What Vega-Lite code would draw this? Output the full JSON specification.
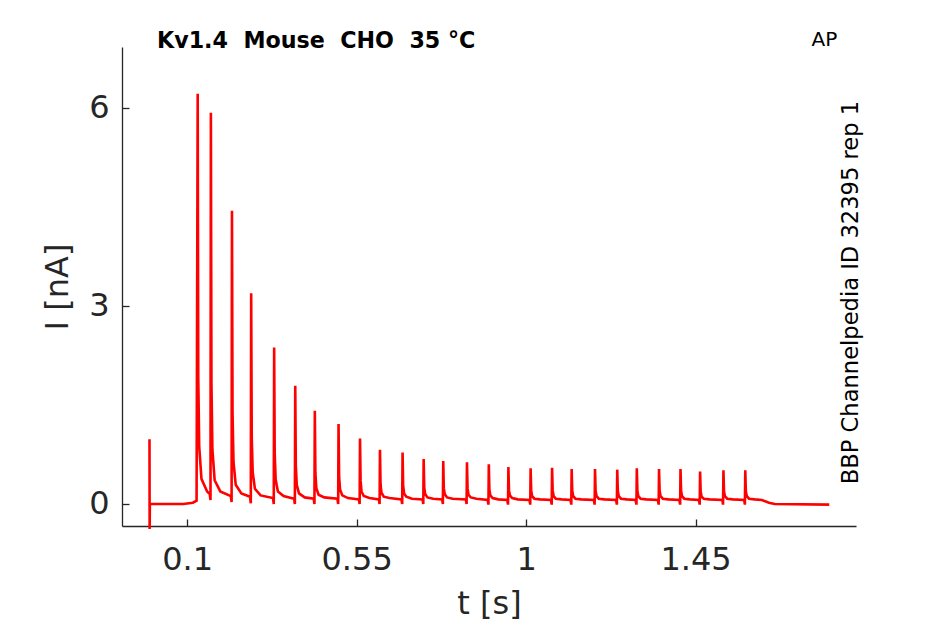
{
  "$schema": "https://vega.github.io/schema/vega-lite/v6.json",
  "autosize": {"type": "none"},
  "width": 734,
  "height": 479,
  "padding": {"left": 122, "top": 47, "right": 89, "bottom": 98},
  "background": "white",
  "title": {
    "text": "Kv1.4\u00a0 Mouse\u00a0 CHO\u00a0 35 °C",
    "anchor": "start",
    "frame": "group",
    "dx": 35,
    "dy": 40,
    "font": "DejaVu Sans",
    "fontSize": 22.2,
    "fontWeight": "bold",
    "color": "black",
    "baseline": "alphabetic",
    "offset": 0
  },
  "data": {
    "values": [
      {"t": 0.0, "i": 0.98}, {"t": 0.0004, "i": -0.38}, {"t": 0.001, "i": 0.0},
      {"t": 0.09, "i": 0.0}, {"t": 0.115, "i": 0.02}, {"t": 0.125, "i": 0.05},
      {"t": 0.128, "i": 6.21}, {"t": 0.1295, "i": 1.91}, {"t": 0.132, "i": 0.87}, {"t": 0.138, "i": 0.38}, {"t": 0.153, "i": 0.19},
      {"t": 0.16, "i": 0.15}, {"t": 0.162, "i": 0.06}, {"t": 0.163, "i": 5.92}, {"t": 0.1645, "i": 1.83}, {"t": 0.167, "i": 0.83}, {"t": 0.173, "i": 0.36}, {"t": 0.188, "i": 0.19},
      {"t": 0.216, "i": 0.12}, {"t": 0.218, "i": 0.03}, {"t": 0.219, "i": 4.44}, {"t": 0.2205, "i": 1.38}, {"t": 0.223, "i": 0.64}, {"t": 0.229, "i": 0.29}, {"t": 0.244, "i": 0.16},
      {"t": 0.267, "i": 0.11}, {"t": 0.269, "i": 0.01}, {"t": 0.27, "i": 3.19}, {"t": 0.2715, "i": 1.01}, {"t": 0.274, "i": 0.48}, {"t": 0.28, "i": 0.23}, {"t": 0.295, "i": 0.13},
      {"t": 0.328, "i": 0.09}, {"t": 0.33, "i": 0.0}, {"t": 0.331, "i": 2.37}, {"t": 0.3325, "i": 0.76}, {"t": 0.335, "i": 0.37}, {"t": 0.341, "i": 0.19}, {"t": 0.356, "i": 0.12},
      {"t": 0.384, "i": 0.08}, {"t": 0.386, "i": 0.0}, {"t": 0.387, "i": 1.79}, {"t": 0.3885, "i": 0.59}, {"t": 0.391, "i": 0.29}, {"t": 0.397, "i": 0.16}, {"t": 0.412, "i": 0.1},
      {"t": 0.436, "i": 0.08}, {"t": 0.438, "i": 0.0}, {"t": 0.439, "i": 1.41}, {"t": 0.4405, "i": 0.47}, {"t": 0.443, "i": 0.24}, {"t": 0.449, "i": 0.14}, {"t": 0.464, "i": 0.1},
      {"t": 0.499, "i": 0.08}, {"t": 0.501, "i": 0.0}, {"t": 0.502, "i": 1.21}, {"t": 0.5035, "i": 0.41}, {"t": 0.506, "i": 0.22}, {"t": 0.512, "i": 0.13}, {"t": 0.527, "i": 0.09},
      {"t": 0.556, "i": 0.07}, {"t": 0.558, "i": 0.0}, {"t": 0.559, "i": 0.99}, {"t": 0.5605, "i": 0.35}, {"t": 0.563, "i": 0.19}, {"t": 0.569, "i": 0.12}, {"t": 0.584, "i": 0.09},
      {"t": 0.609, "i": 0.07}, {"t": 0.611, "i": 0.0}, {"t": 0.612, "i": 0.82}, {"t": 0.6135, "i": 0.3}, {"t": 0.616, "i": 0.17}, {"t": 0.622, "i": 0.11}, {"t": 0.637, "i": 0.09},
      {"t": 0.669, "i": 0.07}, {"t": 0.671, "i": 0.0}, {"t": 0.672, "i": 0.78}, {"t": 0.6735, "i": 0.28}, {"t": 0.676, "i": 0.16}, {"t": 0.682, "i": 0.11}, {"t": 0.697, "i": 0.08},
      {"t": 0.725, "i": 0.07}, {"t": 0.727, "i": 0.0}, {"t": 0.728, "i": 0.68}, {"t": 0.7295, "i": 0.25}, {"t": 0.732, "i": 0.15}, {"t": 0.738, "i": 0.1}, {"t": 0.753, "i": 0.08},
      {"t": 0.777, "i": 0.07}, {"t": 0.779, "i": 0.0}, {"t": 0.78, "i": 0.65}, {"t": 0.7815, "i": 0.24}, {"t": 0.784, "i": 0.15}, {"t": 0.79, "i": 0.1}, {"t": 0.805, "i": 0.08},
      {"t": 0.84, "i": 0.07}, {"t": 0.842, "i": 0.0}, {"t": 0.843, "i": 0.63}, {"t": 0.8445, "i": 0.24}, {"t": 0.847, "i": 0.14}, {"t": 0.853, "i": 0.1}, {"t": 0.868, "i": 0.08},
      {"t": 0.898, "i": 0.06}, {"t": 0.9, "i": -0.01}, {"t": 0.901, "i": 0.6}, {"t": 0.9025, "i": 0.22}, {"t": 0.905, "i": 0.13}, {"t": 0.911, "i": 0.09}, {"t": 0.926, "i": 0.07},
      {"t": 0.95, "i": 0.06}, {"t": 0.952, "i": -0.01}, {"t": 0.953, "i": 0.56}, {"t": 0.9545, "i": 0.21}, {"t": 0.957, "i": 0.13}, {"t": 0.963, "i": 0.09}, {"t": 0.978, "i": 0.07},
      {"t": 1.009, "i": 0.06}, {"t": 1.011, "i": -0.01}, {"t": 1.012, "i": 0.54}, {"t": 1.0135, "i": 0.2}, {"t": 1.016, "i": 0.12}, {"t": 1.022, "i": 0.08}, {"t": 1.037, "i": 0.07},
      {"t": 1.066, "i": 0.06}, {"t": 1.068, "i": -0.01}, {"t": 1.069, "i": 0.55}, {"t": 1.0705, "i": 0.21}, {"t": 1.073, "i": 0.12}, {"t": 1.079, "i": 0.08}, {"t": 1.094, "i": 0.07},
      {"t": 1.118, "i": 0.06}, {"t": 1.12, "i": -0.01}, {"t": 1.121, "i": 0.53}, {"t": 1.1225, "i": 0.2}, {"t": 1.125, "i": 0.12}, {"t": 1.131, "i": 0.08}, {"t": 1.146, "i": 0.07},
      {"t": 1.18, "i": 0.06}, {"t": 1.182, "i": -0.01}, {"t": 1.183, "i": 0.53}, {"t": 1.1845, "i": 0.2}, {"t": 1.187, "i": 0.12}, {"t": 1.193, "i": 0.08}, {"t": 1.208, "i": 0.07},
      {"t": 1.239, "i": 0.06}, {"t": 1.241, "i": -0.01}, {"t": 1.242, "i": 0.52}, {"t": 1.2435, "i": 0.2}, {"t": 1.246, "i": 0.12}, {"t": 1.252, "i": 0.08}, {"t": 1.267, "i": 0.07},
      {"t": 1.291, "i": 0.06}, {"t": 1.293, "i": -0.01}, {"t": 1.294, "i": 0.54}, {"t": 1.2955, "i": 0.2}, {"t": 1.298, "i": 0.12}, {"t": 1.304, "i": 0.08}, {"t": 1.319, "i": 0.07},
      {"t": 1.35, "i": 0.06}, {"t": 1.352, "i": -0.01}, {"t": 1.353, "i": 0.53}, {"t": 1.3545, "i": 0.2}, {"t": 1.357, "i": 0.12}, {"t": 1.363, "i": 0.08}, {"t": 1.378, "i": 0.07},
      {"t": 1.407, "i": 0.06}, {"t": 1.409, "i": -0.01}, {"t": 1.41, "i": 0.53}, {"t": 1.4115, "i": 0.2}, {"t": 1.414, "i": 0.12}, {"t": 1.42, "i": 0.08}, {"t": 1.435, "i": 0.07},
      {"t": 1.459, "i": 0.06}, {"t": 1.461, "i": -0.01}, {"t": 1.462, "i": 0.49}, {"t": 1.4635, "i": 0.19}, {"t": 1.466, "i": 0.11}, {"t": 1.472, "i": 0.08}, {"t": 1.487, "i": 0.07},
      {"t": 1.521, "i": 0.06}, {"t": 1.523, "i": -0.01}, {"t": 1.524, "i": 0.51}, {"t": 1.5255, "i": 0.19}, {"t": 1.528, "i": 0.12}, {"t": 1.534, "i": 0.08}, {"t": 1.549, "i": 0.07},
      {"t": 1.579, "i": 0.06}, {"t": 1.581, "i": -0.01}, {"t": 1.582, "i": 0.51}, {"t": 1.5835, "i": 0.19}, {"t": 1.586, "i": 0.12}, {"t": 1.592, "i": 0.08}, {"t": 1.607, "i": 0.07},
      {"t": 1.626, "i": 0.06}, {"t": 1.645, "i": 0.02}, {"t": 1.66, "i": 0.0}, {"t": 1.805, "i": -0.01}
    ]
  },
  "layer": [
    {
      "mark": {"type": "line", "color": "#ff0000", "strokeWidth": 2.6, "clip": false},
      "encoding": {
        "x": {
          "field": "t",
          "type": "quantitative",
          "title": "t [s]",
          "scale": {"domain": [-0.073, 1.876], "nice": false, "zero": false},
          "axis": {"values": [0.1, 0.55, 1, 1.45], "format": ".3~g", "grid": false}
        },
        "y": {
          "field": "i",
          "type": "quantitative",
          "title": "I [nA]",
          "scale": {"domain": [-0.333, 6.917], "nice": false, "zero": false},
          "axis": {"values": [0, 3, 6], "format": ".3~g", "grid": false}
        }
      }
    },
    {
      "data": {"values": [{"label": "AP"}]},
      "mark": {"type": "text", "font": "DejaVu Sans", "fontSize": 20, "color": "black", "align": "center", "baseline": "alphabetic"},
      "encoding": {
        "x": {"datum": 1.792, "type": "quantitative"},
        "y": {"datum": 6.93, "type": "quantitative"},
        "text": {"field": "label"}
      }
    },
    {
      "data": {"values": [{"label": "BBP Channelpedia ID 32395 rep 1"}]},
      "mark": {"type": "text", "font": "DejaVu Sans", "fontSize": 22.6, "color": "black", "align": "center", "baseline": "alphabetic", "angle": 270},
      "encoding": {
        "x": {"datum": 1.88, "type": "quantitative"},
        "y": {"datum": 3.2, "type": "quantitative"},
        "text": {"field": "label"}
      }
    }
  ],
  "config": {
    "view": {"stroke": null},
    "axis": {
      "domainColor": "#262626",
      "domainWidth": 1.3,
      "tickColor": "#262626",
      "tickWidth": 1.3,
      "tickSize": -7,
      "labelFont": "DejaVu Sans",
      "labelFontSize": 32,
      "labelColor": "#262626",
      "titleFont": "DejaVu Sans",
      "titleFontSize": 32,
      "titleFontWeight": "normal",
      "titleColor": "#262626"
    },
    "axisX": {"labelPadding": 25, "titlePadding": 13},
    "axisY": {"labelPadding": 20, "titlePadding": 14}
  }
}
